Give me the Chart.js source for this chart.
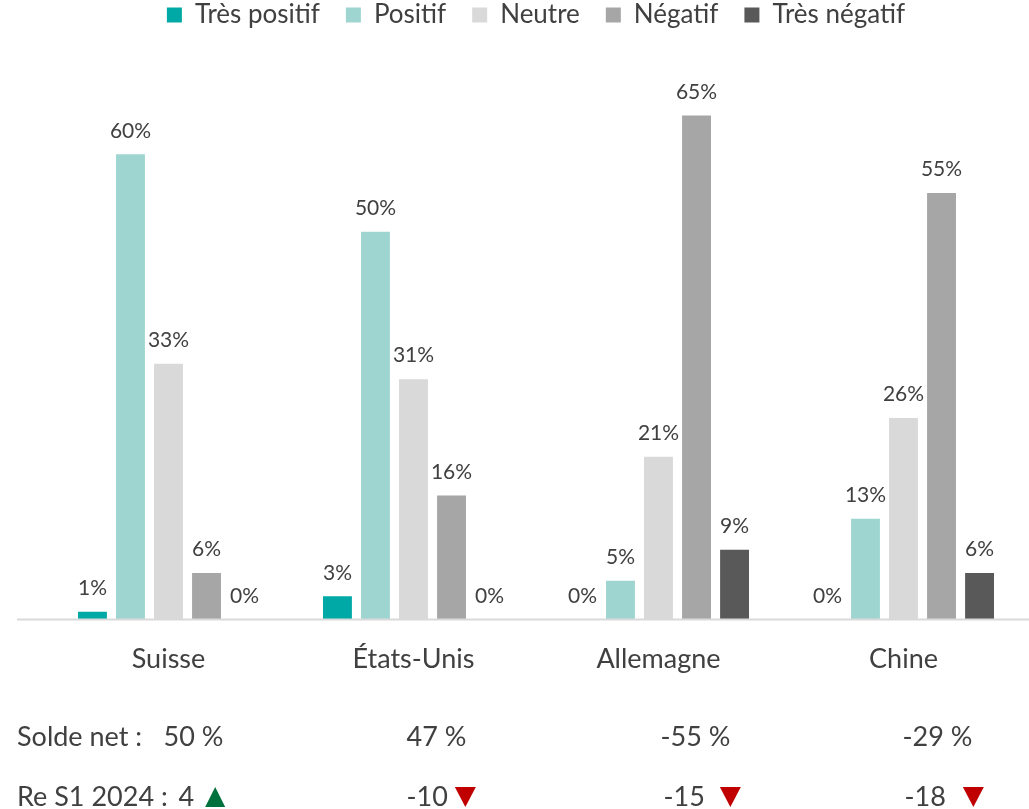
<!DOCTYPE html>
<html>
<head>
<meta charset="utf-8">
<script src="https://cdn.jsdelivr.net/npm/chart.js@4.4.0/dist/chart.umd.min.js"></script>
<style>
  html, body { margin: 0; padding: 0; background: #ffffff; }
  #wrap { width: 1029px; height: 809px; position: relative; }
</style>
</head>
<body>
<div id="wrap"><canvas id="graficaPays"></canvas></div>
<script>
// Données
var pays = ['Suisse', 'États-Unis', 'Allemagne', 'Chine'];
var tresPositif = [1, 3, 0, 0];
var positif = [60, 50, 5, 13];
var neutre = [33, 31, 21, 26];
var negatif = [6, 16, 65, 55];
var tresNegatif = [0, 0, 9, 6];
var soldeNet = [50, 47, -55, -29];
var reS1 = [4, -10, -15, -18];

var police = 'Lato, "Open Sans", sans-serif';
var gris = '#404040';

// Étiquettes de valeurs au-dessus des barres
var etiquettesPlugin = {
    id: 'etiquettes',
    afterDatasetsDraw: function(chart) {
        var ctx = chart.ctx;
        ctx.save();
        ctx.font = '21px ' + police;
        ctx.fillStyle = gris;
        ctx.textAlign = 'center';
        ctx.textBaseline = 'bottom';
        chart.data.datasets.forEach(function(ds, i) {
            var meta = chart.getDatasetMeta(i);
            meta.data.forEach(function(bar, j) {
                ctx.fillText(ds.data[j] + '%', bar.x, bar.y - 13);
            });
        });
        ctx.restore();
    }
};

// Ligne d'axe et lignes "Solde net" / "Re S1 2024" sous le graphique
var resumePlugin = {
    id: 'resume',
    afterDraw: function(chart) {
        var ctx = chart.ctx;
        var xs = chart.scales.x;
        var bas = chart.chartArea.bottom;
        ctx.save();
        ctx.strokeStyle = '#d9d9d9';
        ctx.lineWidth = 2;
        ctx.beginPath();
        ctx.moveTo(17, bas);
        ctx.lineTo(chart.width, bas);
        ctx.stroke();

        ctx.font = '27px ' + police;
        ctx.fillStyle = gris;
        ctx.textBaseline = 'middle';
        ctx.textAlign = 'left';
        var y1 = 737, y2 = 797;
        ctx.fillText('Solde net :', 17, y1);
        ctx.fillText('Re S1 2024 :', 17, y2);

        // décalages à gauche du centre de chaque pays
        var decSolde = [-5, -7, 2, -1];
        var decRe = [10, -7, 5, 1];
        var ecartTri = [11, 7, 15, 17];
        pays.forEach(function(p, j) {
            var cx = xs.getPixelForValue(j);
            ctx.fillStyle = gris;
            ctx.fillText(soldeNet[j] + ' %', cx + decSolde[j], y1);
            var xr = cx + decRe[j];
            var txt = String(reS1[j]);
            ctx.fillText(txt, xr, y2);
            var w = ctx.measureText(txt).width;
            var tx = xr + w + ecartTri[j];
            // triangle vert vers le haut ou rouge vers le bas
            ctx.beginPath();
            if (reS1[j] >= 0) {
                ctx.fillStyle = '#00703c';
                ctx.moveTo(tx, y2 + 10);
                ctx.lineTo(tx + 20, y2 + 10);
                ctx.lineTo(tx + 10, y2 - 10);
            } else {
                ctx.fillStyle = '#c00000';
                ctx.moveTo(tx, y2 - 10);
                ctx.lineTo(tx + 21, y2 - 10);
                ctx.lineTo(tx + 10.5, y2 + 10);
            }
            ctx.closePath();
            ctx.fill();
        });
        ctx.restore();
    }
};

function serie(label, data, couleur) {
    return {
        label: label,
        data: data,
        backgroundColor: couleur,
        borderWidth: 0,
        categoryPercentage: 0.776,
        barPercentage: 0.76
    };
}

var ctxPays = document.getElementById('graficaPays').getContext('2d');
var myChart = new Chart(ctxPays, {
    type: 'bar',
    data: {
        labels: pays,
        datasets: [
            serie('Très positif', tresPositif, '#00a9a5'),
            serie('Positif', positif, '#9fd5d1'),
            serie('Neutre', neutre, '#d9d9d9'),
            serie('Négatif', negatif, '#a6a6a6'),
            serie('Très négatif', tresNegatif, '#595959')
        ]
    },
    options: {
        responsive: true,
        maintainAspectRatio: false,
        animation: false,
        layout: {
            padding: { left: 46, right: 3, top: -24, bottom: 119 }
        },
        plugins: {
            legend: {
                position: 'top',
                labels: {
                    boxWidth: 15,
                    boxHeight: 15,
                    padding: 26,
                    color: gris,
                    font: { family: police, size: 26 }
                }
            },
            tooltip: { enabled: false }
        },
        scales: {
            x: {
                grid: { display: false },
                border: { display: false },
                ticks: {
                    color: gris,
                    padding: 15,
                    font: { family: police, size: 27 }
                }
            },
            y: {
                display: false,
                min: 0,
                max: 75
            }
        }
    },
    plugins: [etiquettesPlugin, resumePlugin]
});
</script>
</body>
</html>
